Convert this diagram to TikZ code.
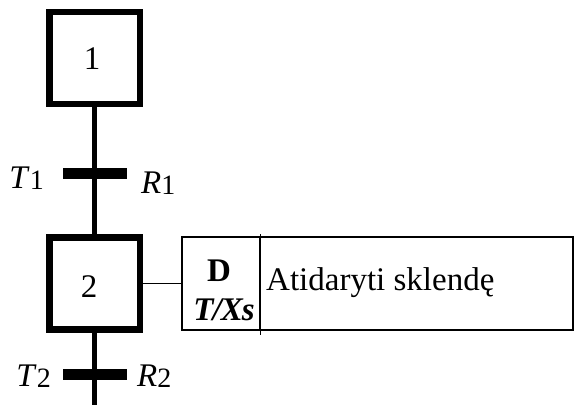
\documentclass[tikz,border=0pt]{standalone}
\usepackage{fontspec}
\setmainfont{Liberation Serif}
\newcommand\sbx[1]{\raisebox{-1pt}{\fontsize{28}{28}\selectfont #1}}
\begin{document}
\begin{tikzpicture}[x=1pt,y=1pt,
  every node/.style={font=\fontsize{33}{38}\selectfont},
  stepbox/.style={draw,line width=6.5pt,minimum width=90.5pt,minimum height=92pt,inner sep=0},
  trbar/.style={fill=black,minimum width=64pt,minimum height=11pt,inner sep=0},
  actbox/.style={draw,line width=1.2pt,minimum height=93pt,inner sep=0},
  vline/.style={line width=5pt},
  lbl/.style={inner sep=0}]
\useasboundingbox (0,0) rectangle (574,-405);
% steps
\node[stepbox] (s1) at (94.5,-58) {};
\node[lbl,anchor=base] (n1) at (92,-69) {1};
\node[stepbox] (s2) at (94.5,-283.5) {};
\node[lbl,anchor=base] (n2) at (89,-297) {2};
% transitions
\coordinate (bot) at (94.5,-405);
\draw[vline] (s1.south) -- (s2.north);
\draw[vline] (s2.south) -- (bot);
\node[trbar] (t1) at (94.5,-173.5) {};
\node[trbar] (t2) at (94.5,-374) {};
\node[lbl,anchor=base east] (lt1) at (44,-188) {\textit{T}\sbx{1}};
\node[lbl,anchor=base west] (lr1) at (141,-193) {\textit{R}\sbx{1}};
\node[lbl,anchor=base east] (lt2) at (51,-386) {\textit{T}\sbx{2}};
\node[lbl,anchor=base west] (lr2) at (137,-386) {\textit{R}\sbx{2}};
% action
\node[actbox,minimum width=78pt] (actL) at (221,-283.5) {};
\node[actbox,minimum width=313pt] (actR) at (416.5,-283.5) {};
\draw[line width=1.2pt] ([yshift=2pt]actL.north east) -- ([yshift=-4pt]actL.south east);
\draw[line width=1pt] (s2.east) -- (actL.west);
\node[lbl,anchor=base] (d) at (219,-281) {\bfseries D};
\node[lbl,anchor=base] (txs) at (224,-320) {\bfseries\itshape T\kern-1pt/\kern-1ptX\kern-1pts};
\node[lbl,anchor=base west] (txt) at (266,-290) {Atidaryti sklendę};
\end{tikzpicture}
\end{document}
